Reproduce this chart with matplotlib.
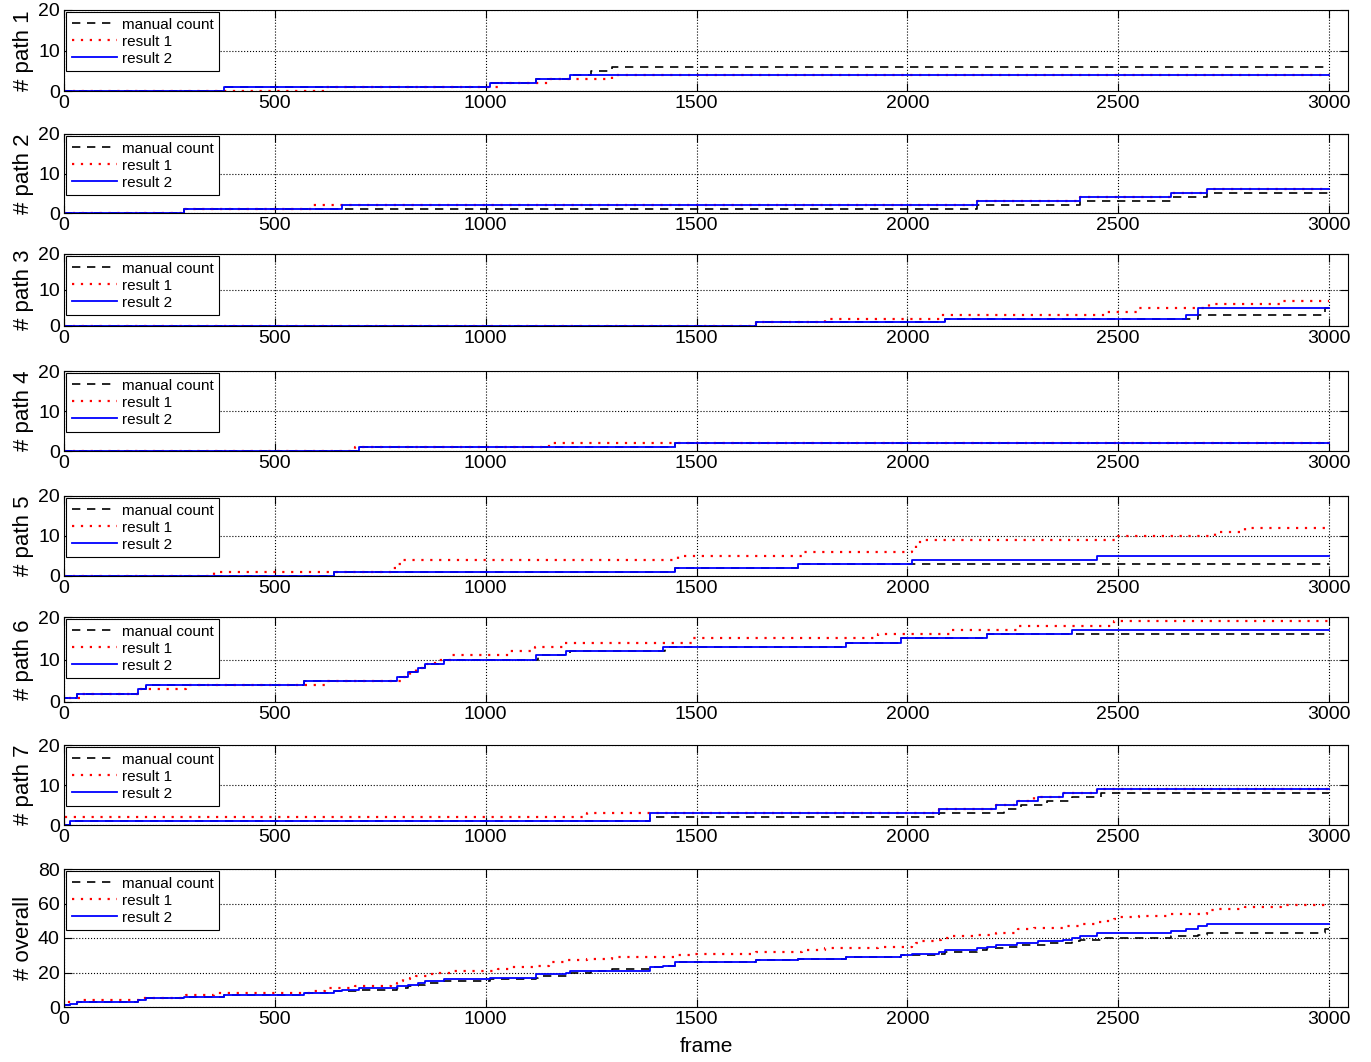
import numpy as np
import matplotlib
matplotlib.use('Agg')
import matplotlib.pyplot as plt

plt.rcParams['font.family'] = ['Liberation Sans', 'DejaVu Sans']

# frames at which a new object was counted (one entry per count)
p1_manual = [380, 1010, 1120, 1200, 1250, 1300]
p1_res1 = [620, 1030, 1150, 1300]
p1_res2 = [380, 1010, 1120, 1200]

p2_manual = [285, 2165, 2410, 2625, 2710]
p2_res1 = [285, 590, 2165, 2410, 2625, 2710]
p2_res2 = [285, 660, 2165, 2410, 2625, 2710]

p3_manual = [1640, 2090, 2690, 2990, 2990]
p3_res1 = [1640, 1805, 2080, 2470, 2550, 2715, 2885]
p3_res2 = [1640, 2090, 2660, 2690, 2690]

p4_manual = [700, 1450]
p4_res1 = [690, 1150]
p4_res2 = [700, 1450]

p5_manual = [640, 1450, 1740]
p5_res1 = [355, 775, 790, 805, 1455, 1750, 2010, 2020, 2030, 2500, 2730, 2800]
p5_res2 = [640, 1450, 1740, 2010, 2450]

p6_manual = [0, 30, 175, 195, 570, 790, 815, 840, 855, 900, 1125, 1200,
             1425, 1855, 1985, 2190]
p6_res1 = [0, 40, 180, 290, 620, 800, 820, 835, 860, 880, 920, 1055, 1117,
           1185, 1492, 1930, 2105, 2262, 2490]
p6_res2 = [0, 30, 175, 195, 570, 790, 815, 840, 855, 900, 1120, 1190, 1420,
           1855, 1985, 2190, 2390]

p7_manual = [15, 1390, 2075, 2230, 2270, 2330, 2390, 2460]
p7_res1 = [0, 0, 1240, 2075, 2210, 2260, 2300, 2370, 2450]
p7_res2 = [15, 1390, 1390, 2075, 2210, 2260, 2310, 2370, 2450]

manual = [p1_manual, p2_manual, p3_manual, p4_manual, p5_manual, p6_manual, p7_manual]
res1 = [p1_res1, p2_res1, p3_res1, p4_res1, p5_res1, p6_res1, p7_res1]
res2 = [p1_res2, p2_res2, p3_res2, p4_res2, p5_res2, p6_res2, p7_res2]

ylabels = ['# path 1', '# path 2', '# path 3', '# path 4', '# path 5',
           '# path 6', '# path 7', '# overall']
last_frame = 3000

# axes boxes in pixels (top, bottom)
boxes = [(10, 91), (134, 213), (254, 326), (371, 451), (496, 576),
         (617, 702), (745, 825), (869, 1007)]
W, H = 1371, 1062


def stairs(ax, events, **kw):
    ev = np.sort(np.asarray(events, dtype=float))
    x = np.concatenate([[0], ev, [last_frame]])
    y = np.concatenate([[0], np.arange(1, len(ev) + 1), [len(ev)]])
    return ax.step(x, y, where='post', **kw)[0]


fig = plt.figure(figsize=(W / 100., H / 100.), dpi=100)

for i in range(8):
    top, bot = boxes[i]
    ax = fig.add_axes([64. / W, 1 - bot / float(H), (1348 - 64.) / W, (bot - top) / float(H)])
    if i < 7:
        m, r1, r2 = manual[i], res1[i], res2[i]
        ymax = 20
    else:
        # overall = all paths together
        m = sum(manual, [])
        r1 = sum(res1, [])
        r2 = sum(res2, [])
        ymax = 80
    l0 = stairs(ax, m, color='k', lw=1.2, ls=(0, (5, 4)))
    l1 = stairs(ax, r1, color='r', lw=1.6, ls=(0, (1, 3)))
    l2 = stairs(ax, r2, color='#0000ff', lw=1.3)
    ax.set_xlim(0, 3045)
    ax.set_ylim(0, ymax)
    ax.set_xticks(np.arange(0, 3001, 500))
    ax.set_yticks(np.arange(0, ymax + 1, 10 if i < 7 else 20))
    ax.grid(True, ls=':', color='k', lw=0.8)
    ax.tick_params(direction='in', top=True, right=True, labelsize=14, length=6, pad=3)
    ax.set_ylabel(ylabels[i], fontsize=16, labelpad=3)
    leg = ax.legend((l0, l1, l2), ('manual count', 'result 1', 'result 2'),
                    loc='upper left', fontsize=11, handlelength=3.0,
                    handletextpad=0.3, labelspacing=0.2, borderaxespad=0.15,
                    fancybox=False, framealpha=1, borderpad=0.35)
    leg.get_frame().set_edgecolor('k')
    leg.get_frame().set_linewidth(0.8)
    if i == 7:
        ax.set_xlabel('frame', fontsize=15, labelpad=6)

fig.savefig('out.png', dpi=100)
